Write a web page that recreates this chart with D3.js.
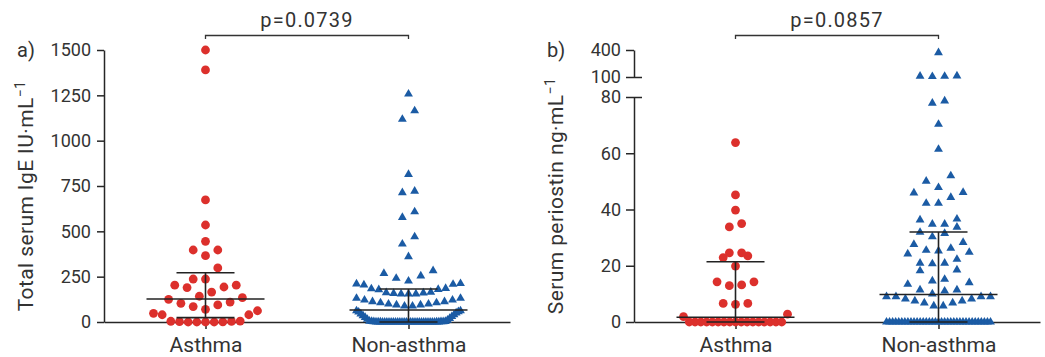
<!DOCTYPE html>
<html>
<head>
<meta charset="utf-8">
<script src="https://cdn.jsdelivr.net/npm/d3@7"></script>
<style>
body { margin: 0; background: #fff; }
svg text { font-family: Roboto, "DejaVu Sans", sans-serif; fill: #333; }
.axis text { font-size: 18px; }
.axis .domain, .axis line { stroke: #262626; stroke-width: 1.5px; }
.xaxis text { font-size: 21px; }
</style>
</head>
<body>
<svg id="chart" width="1045" height="357"></svg>
<script>
const groups = ["Asthma", "Non-asthma"];

// total serum IgE, IU/mL
const igeAsthma = [1500, 1390, 673, 535, 445, 397, 397, 366, 298, 237, 237, 203, 203, 193, 190,
  165, 142, 134, 125, 110, 103, 94, 85, 70, 62, 48, 40, 40, 5, 4, 3, 2, 1, 0, 0, 0, 0];
const igeNonAsthma = [1257, 1165, 1118, 814, 722, 713, 608, 577, 470, 430, 360, 283, 268, 254, 241,
  226, 212, 210, 208, 205, 185, 183, 180, 178, 165, 162, 160, 158, 155, 155, 155, 131, 131, 121, 121,
  112, 112, 106, 106, 99, 99, 94, 94, 88, 88, 62, 62, 57, 55, 50, 45, 40, 35, 30, 25, 20, 15, 10, 5,
  3, 3, 2, 2, 2, 1, 1, 1, 1, 1, 0, 0, 0, 0, 0, 0, 0, 0, 0, 0, 0, 0, 0, 0, 0, 0, 0, 0, 0, 0, 0, 0, 0, 0, 0];

// serum periostin, ng/mL
const postnAsthma = [63.8, 45.2, 39.8, 35.0, 33.8, 24.6, 24.6, 23.5, 22.9, 19.9, 14.3, 14.3, 13.2, 12.9,
  6.6, 6.6, 6.3, 2.8, 1.9, 0, 0, 0, 0, 0, 0, 0, 0, 0, 0, 0, 0, 0, 0, 0, 0, 0];
const postnNonAsthma = [370, 112, 110, 108, 105, 78.6, 77.8, 70.3, 61.4, 52.0, 50.1, 47.8, 46.1, 45.9,
  44.3, 42.2, 42.2, 36.6, 36.3, 34.8, 34.8, 33.7, 31.9, 31.5, 30.3, 28.3, 27.6, 26.2, 25.5, 25.3, 24.8,
  24.2, 22.3, 20.9, 20.9, 20.7, 18.5, 18.2, 15.2, 14.6, 14.0, 13.4, 11.4, 11.4, 11.0, 10.0, 9.0, 9.0,
  9.0, 9.0, 8.2, 8.2, 7.5, 7.5, 6.8, 6.8, 5.7, 5.7, 0, 0, 0, 0, 0, 0, 0, 0, 0, 0, 0, 0, 0, 0, 0, 0, 0,
  0, 0, 0, 0, 0, 0, 0, 0, 0, 0, 0, 0, 0, 0, 0, 0, 0, 0];

// [median, q1, q3]
const igeStats = [[127, 24, 272], [66, 0, 182]];
const postnStats = [[1.7, 0, 21.4], [9.8, 0, 32]];

const igeTicks = [0, 250, 500, 750, 1000, 1250, 1500];
const postnTicksLow = [0, 20, 40, 60, 80];
const postnTicksHigh = [100, 400];
const pValues = ["p=0.0739", "p=0.0857"];
const panelLabels = ["a)", "b)"];

const red = "#dc302c", blue = "#1b5ba4";
const svg = d3.select("#chart");
const y0 = 322, yTop = 50;

// prism-like scatter layout: rows of ~12px, smallest value in the middle
function swarm(values, y, sMax, maxW, h) {
  const pts = values.map(v => ({ v: v, py: y(v) })).sort((a, b) => a.v - b.v);
  let i = 0;
  while (i < pts.length) {
    const start = pts[i].py, row = [];
    while (i < pts.length && start - pts[i].py < h) row.push(pts[i++]);
    const n = row.length;
    const s = n > 1 ? Math.min(sMax, maxW / (n - 1)) : 0;
    row.forEach((p, k) => {
      let off;
      if (n % 2) off = k === 0 ? 0 : Math.ceil(k / 2) * (k % 2 ? -1 : 1);
      else off = (Math.floor(k / 2) + 0.5) * (k % 2 ? 1 : -1);
      p.dx = off * s;
    });
  }
  return pts;
}

function panel(opt) {
  const g = svg.append("g");
  const x = d3.scalePoint().domain(groups).range([opt.x0, opt.x0 + 406]).padding(0.5);

  // x axis
  g.append("g").attr("class", "axis xaxis").attr("transform", "translate(0," + y0 + ")")
    .call(d3.axisBottom(x).tickSize(7).tickSizeOuter(0).tickPadding(8));

  // points
  opt.data.forEach((vals, gi) => {
    const pts = swarm(vals, opt.y, 12.3, 104, 12);
    const cx = x(groups[gi]);
    if (gi === 0) {
      g.append("g").selectAll("circle").data(pts).join("circle")
        .attr("cx", d => cx + d.dx).attr("cy", d => d.py).attr("r", 4.4).attr("fill", red);
    } else {
      g.append("g").selectAll("path").data(pts).join("path")
        .attr("d", d3.symbol(d3.symbolTriangle, 34))
        .attr("transform", d => "translate(" + (cx + d.dx) + "," + d.py + ")").attr("fill", blue);
    }
  });

  // median + interquartile range
  opt.stats.forEach((s, gi) => {
    const cx = x(groups[gi]);
    const sg = g.append("g").attr("stroke", "#222").attr("stroke-width", 1.6);
    sg.append("line").attr("x1", cx - 59).attr("x2", cx + 59).attr("y1", opt.y(s[0])).attr("y2", opt.y(s[0]));
    [s[1], s[2]].forEach(q => sg.append("line").attr("x1", cx - 29).attr("x2", cx + 29)
      .attr("y1", opt.y(q)).attr("y2", opt.y(q)));
    sg.append("line").attr("x1", cx).attr("x2", cx).attr("y1", opt.y(s[1])).attr("y2", opt.y(s[2]));
  });

  // y axis
  opt.drawY(g);

  // significance bracket
  const xa = x(groups[0]), xb = x(groups[1]);
  g.append("path").attr("d", "M" + xa + ",39V35.5H" + xb + "V39")
    .attr("fill", "none").attr("stroke", "#333").attr("stroke-width", 1.3);
  g.append("text").attr("x", (xa + xb) / 2).attr("y", 27).attr("text-anchor", "middle")
    .style("font-size", "20px").style("letter-spacing", "1.2px").text(opt.p);

  g.append("text").attr("x", opt.x0 - 87).attr("y", 57).style("font-size", "20px").text(opt.label);

  const yl = g.append("text").attr("transform", "translate(" + (opt.x0 - 71) + ",196) rotate(-90)")
    .attr("text-anchor", "middle").style("font-size", "21px").style("letter-spacing", "0.4px");
  yl.append("tspan").text(opt.ylabel);
  yl.append("tspan").attr("dy", -8).style("font-size", "14px").text("\u22121");
}

// panel a
const yA = d3.scaleLinear().domain([0, 1500]).range([y0, yTop]);
panel({
  x0: 104, y: yA, data: [igeAsthma, igeNonAsthma], stats: igeStats, p: pValues[0],
  label: panelLabels[0], ylabel: "Total serum IgE IU\u00b7mL",
  drawY: g => g.append("g").attr("class", "axis").attr("transform", "translate(104,0)")
    .call(d3.axisLeft(yA).tickValues(igeTicks).tickFormat(d3.format("d"))
      .tickSize(7).tickPadding(6).tickSizeOuter(0))
});

// panel b, broken axis
const yLow = d3.scaleLinear().domain([0, 80]).range([y0, 97]);
const yHigh = d3.scaleLinear().domain([100, 400]).range([77, yTop]);
const yB = d3.scaleLinear().domain([0, 80, 100, 400]).range([y0, 97, 77, yTop]);
panel({
  x0: 634, y: yB, data: [postnAsthma, postnNonAsthma], stats: postnStats, p: pValues[1],
  label: panelLabels[1], ylabel: "Serum periostin ng\u00b7mL",
  drawY: g => {
    [[yLow, postnTicksLow, [80]], [yHigh, postnTicksHigh, [100]]].forEach(([sc, tv, brk]) => {
      g.append("g").attr("class", "axis").attr("transform", "translate(634,0)")
        .call(d3.axisLeft(sc).tickValues(tv).tickSize(8).tickPadding(5).tickSizeOuter(0));
      g.append("g").attr("class", "axis").attr("transform", "translate(634,0)")
        .call(d3.axisRight(sc).tickValues(brk).tickSize(8).tickFormat("").tickSizeOuter(0))
        .select(".domain").remove();
    });
  }
});
</script>
</body>
</html>
